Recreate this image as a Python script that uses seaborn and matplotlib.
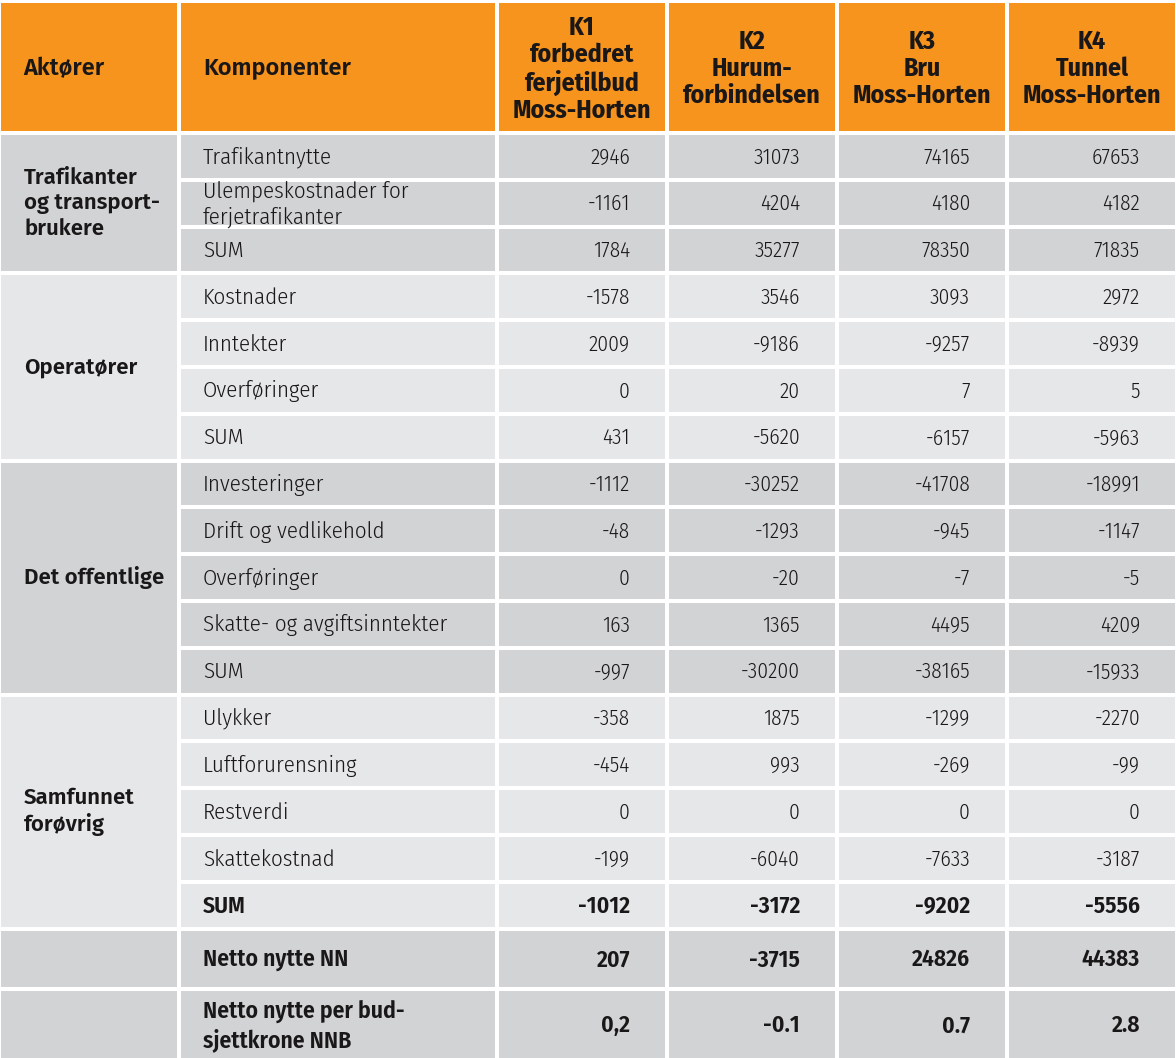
import matplotlib
matplotlib.use("Agg")
import matplotlib.pyplot as plt
from matplotlib.patches import Rectangle
from matplotlib import font_manager
import seaborn as sns

# --- data -------------------------------------------------------------
col_headers = ["Aktører", "Komponenter",
               "K1\nforbedret\nferjetilbud\nMoss-Horten",
               "K2\nHurum-\nforbindelsen",
               "K3\nBru\nMoss-Horten",
               "K4\nTunnel\nMoss-Horten"]

actors = ["Trafikanter\nog transport-\nbrukere", "Operatører", "Det offentlige",
          "Samfunnet\nforøvrig", "", ""]

components = [
    ["Trafikantnytte", "Ulempeskostnader for\nferjetrafikanter", "SUM"],
    ["Kostnader", "Inntekter", "Overføringer", "SUM"],
    ["Investeringer", "Drift og vedlikehold", "Overføringer",
     "Skatte- og avgiftsinntekter", "SUM"],
    ["Ulykker", "Luftforurensning", "Restverdi", "Skattekostnad", "SUM"],
    ["Netto nytte NN"],
    ["Netto nytte per bud-\nsjettkrone NNB"],
]

k1 = [2946, -1161, 1784, -1578, 2009, 0, 431, -1112, -48, 0, 163, -997,
      -358, -454, 0, -199, -1012, 207]
k2 = [31073, 4204, 35277, 3546, -9186, 20, -5620, -30252, -1293, -20, 1365,
      -30200, 1875, 993, 0, -6040, -3172, -3715]
k3 = [74165, 4180, 78350, 3093, -9257, 7, -6157, -41708, -945, -7, 4495,
      -38165, -1299, -269, 0, -7633, -9202, 24826]
k4 = [67653, 4182, 71835, 2972, -8939, 5, -5963, -18991, -1147, -5, 4209,
      -15933, -2270, -99, 0, -3187, -5556, 44383]
nnb = ["0,2", "-0.1", "0.7", "2.8"]

bold_rows = [16, 17, 18]  # SUM (samfunnet), NN, NNB

# --- layout / style ---------------------------------------------------
ORANGE = "#F7941D"
DARK = "#D1D3D4"
LIGHT = "#E6E7E8"
TXT = "#1A1718"
group_fill = [DARK, LIGHT, DARK, LIGHT, DARK, DARK]
col_w = [180, 318, 170, 170, 170, 170]
gap = 4
row_pitch = 46.8
last_pitch = [60, 72]

sns.set_theme(style="white")
available = {f.name for f in font_manager.fontManager.ttflist}


def pick(*names):
    for n in names:
        if n in available:
            return n
    return "DejaVu Sans"


cond = pick("Fira Sans Condensed", "Barlow Semi Condensed", "Roboto")
wide = pick("Fira Sans", "Roboto", "Open Sans")
plt.rcParams["font.family"] = [cond, "DejaVu Sans"]

fig = plt.figure(figsize=(11.76, 10.58), dpi=100)
ax = fig.add_axes([0, 0, 1, 1])
ax.set_xlim(0, 1176)
ax.set_ylim(1058, 0)
ax.axis("off")

col_x = [1]
for w in col_w[:-1]:
    col_x.append(col_x[-1] + w)


def cell(x, y, w, h, color):
    ax.add_patch(Rectangle((x, y), w, h, facecolor=color, edgecolor="none"))


# header
top, head_h = 3, 128
for j, lab in enumerate(col_headers):
    w = col_w[j] - gap
    cell(col_x[j], top, w, head_h, ORANGE)
    if j < 2:
        ax.text(col_x[j] + 22, top + head_h / 2 + 1, lab, ha="left", va="center",
                fontsize=17, fontweight=600, family=wide, color=TXT)
    else:
        ax.text(col_x[j] + w / 2, top + head_h / 2 + 2, lab, ha="center",
                va="center", fontsize=18.5, fontweight="bold", family=cond,
                color=TXT, linespacing=1.12)

# body
values = [k1, k2, k3, k4]
y = top + head_h + gap
r = 0
for g, (actor, comps) in enumerate(zip(actors, components)):
    g_top = y
    for c in comps:
        if g == 4:
            pitch = last_pitch[0]
        elif g == 5:
            pitch = last_pitch[1]
        else:
            pitch = row_pitch
        h = pitch - gap
        bold = r in bold_rows
        wt = 600 if bold else 300
        for j in range(1, 6):
            cell(col_x[j], y, col_w[j] - gap, h, group_fill[g])
        ax.text(col_x[1] + 22, y + h / 2 + 1, c, ha="left", va="center",
                fontsize=17 if bold else 16.5, fontweight=wt, family=cond,
                color=TXT, linespacing=1.25)
        for j in range(4):
            if r < len(k1):
                s = str(values[j][r])
            else:
                s = nnb[j]
            right = col_x[j + 2] + col_w[j + 2] - gap - 35
            ax.text(right, y + h / 2 + 1, s, ha="right", va="center",
                    fontsize=17 if bold else 15.5, fontweight=wt, family=cond,
                    color=TXT)
        y += pitch
        r += 1
    cell(col_x[0], g_top, col_w[0] - gap, y - gap - g_top, group_fill[g])
    if actor:
        ax.text(col_x[0] + 23, (g_top + y - gap) / 2, actor, ha="left",
                va="center", fontsize=16, fontweight=600, family=wide,
                color=TXT, linespacing=1.25)

fig.savefig("out.png", dpi=100, facecolor="white")
